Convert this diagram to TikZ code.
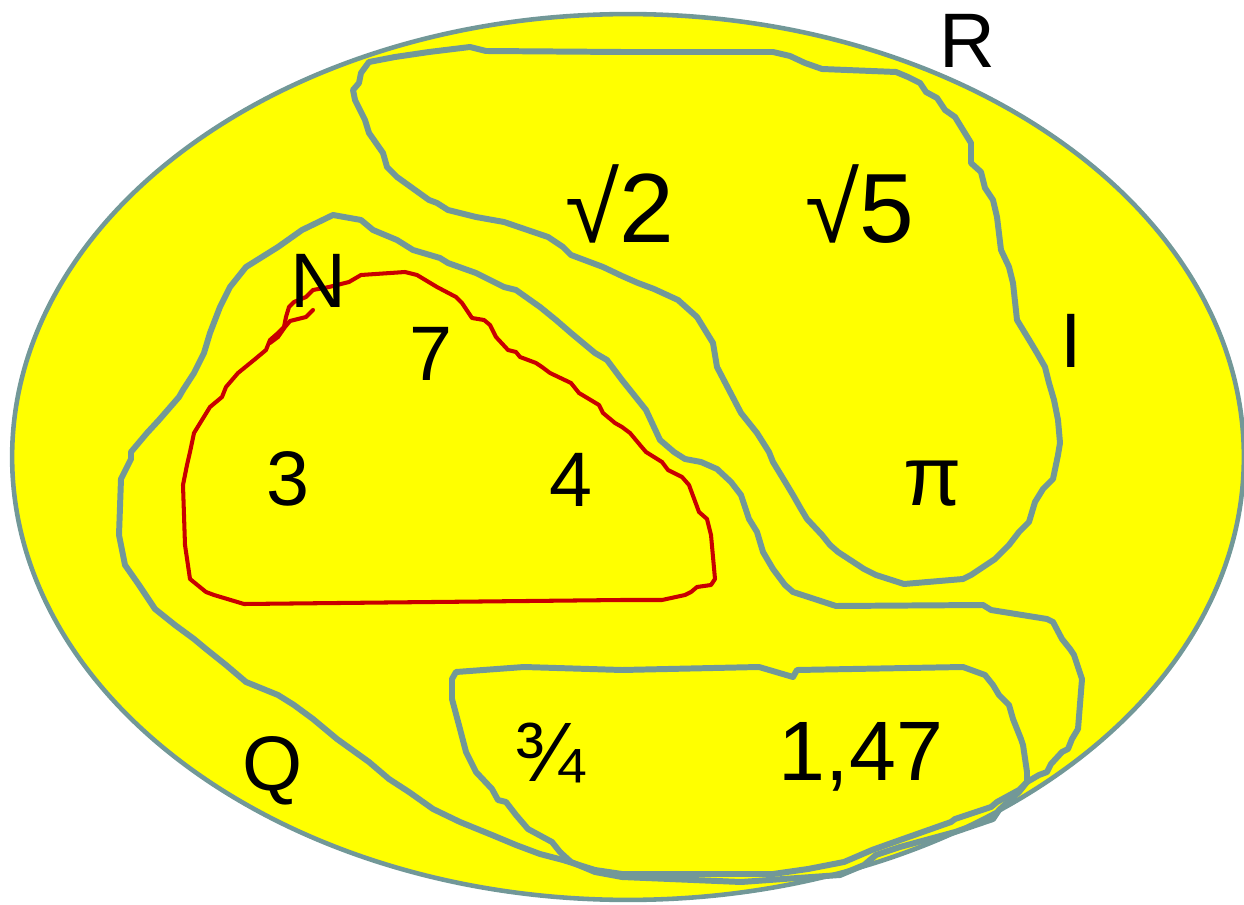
\documentclass[tikz,border=0pt]{standalone}
\usepackage{fontspec}
\setmainfont{Liberation Sans}
\definecolor{setgray}{RGB}{114,152,152}
\definecolor{nred}{RGB}{200,0,0}
\definecolor{bgyellow}{RGB}{255,255,0}
\newcommand\fsbig{\fontsize{44pt}{50pt}\selectfont}
\newcommand\fsroot{\fontsize{56pt}{62pt}\selectfont}
\newcommand\fsnum{\fontsize{48pt}{54pt}\selectfont}
\begin{document}
\begin{tikzpicture}[x=0.02cm,y=-0.02cm,
  setline/.style={draw=setgray, line width=3.4pt, line join=round, line cap=round},
  nline/.style={draw=nred, line width=2.3pt, line join=round, line cap=round},
  lbl/.style={anchor=base, inner sep=0pt, text=black, font=\fsbig}]
\useasboundingbox (0,0) rectangle (1244,905);
% universe R
\draw[fill=bgyellow, draw=setgray, line width=2.6pt] (628,457) ellipse [x radius=12.32cm, y radius=8.86cm];
% irrationals I
\draw[setline] (369,62) -- (395,57) -- (429,52) -- (470,47) -- (486,51) -- (622,52) -- (773,52) -- (790,56) -- (805,63) -- (822,69) -- (896,72) -- (908,77) -- (920,83) -- (926,92) -- (937,98) -- (945,110) -- (955,117) -- (963,130) -- (971,143) -- (971,163) -- (981,172) -- (985,188) -- (993,200) -- (997,217) -- (1001,250) -- (1009,267) -- (1013,283) -- (1017,320) -- (1031,343) -- (1037,353) -- (1045,367) -- (1049,383) -- (1054,400) -- (1058,420) -- (1060,443) -- (1058,455) -- (1053,479) -- (1043,489) -- (1035,502) -- (1029,522) -- (1019,532) -- (1009,545) -- (995,559) -- (971,575) -- (963,579) -- (904,584) -- (876,575) -- (864,569) -- (838,552) -- (830,545) -- (822,535) -- (807,519) -- (801,509) -- (793,495) -- (787,485) -- (773,462) -- (769,452) -- (757,433) -- (741,413) -- (729,390) -- (717,367) -- (713,343) -- (697,317) -- (678,300) -- (654,289) -- (638,283) -- (622,276) -- (603,267) -- (571,255) -- (563,247) -- (548,237) -- (504,222) -- (476,217) -- (448,210) -- (437,203) -- (429,200) -- (397,177) -- (387,167) -- (383,153) -- (369,133) -- (365,120) -- (355,100) -- (353,90) -- (359,83) -- (361,73) -- cycle;
% rationals Q
\draw[setline] (333,215) -- (302,230) -- (278,247) -- (246,267) -- (230,287) -- (220,307) -- (210,333) -- (204,353) -- (194,373) -- (183,390) -- (179,397) -- (159,420) -- (147,433) -- (131,452) -- (131,459) -- (121,479) -- (119,535) -- (125,565) -- (139,585) -- (155,609) -- (175,625) -- (194,639) -- (206,649) -- (226,665) -- (246,682) -- (278,695) -- (294,705) -- (313,719) -- (337,739) -- (369,762) -- (389,779) -- (409,792) -- (433,809) -- (460,822) -- (492,835) -- (516,845) -- (540,854) -- (563,860) -- (595,870) -- (622,874) -- (773,874) -- (808,869) -- (844,862) -- (872,850) -- (900,840) -- (951,822) -- (955,819) -- (991,807) -- (997,802) -- (1019,790) -- (1027,782) -- (1039,775) -- (1047,772) -- (1051,764) -- (1062,752) -- (1068,749) -- (1072,739) -- (1078,729) -- (1082,679) -- (1074,655) -- (1070,649) -- (1062,639) -- (1053,622) -- (1047,619) -- (991,610) -- (983,605) -- (836,606) -- (793,592) -- (785,585) -- (773,569) -- (763,552) -- (757,532) -- (749,519) -- (741,495) -- (731,482) -- (717,469) -- (701,462) -- (685,459) -- (674,452) -- (660,440) -- (646,410) -- (622,380) -- (607,360) -- (595,353) -- (571,333) -- (556,320) -- (540,307) -- (516,290) -- (504,287) -- (476,273) -- (448,263) -- (440,258) -- (413,250) -- (397,240) -- (373,230) -- (361,220) -- cycle;
% decimals
\draw[setline] (456,672) -- (452,679) -- (452,699) -- (460,729) -- (466,752) -- (476,772) -- (492,789) -- (498,800) -- (506,802) -- (516,815) -- (528,829) -- (552,842) -- (560,852) -- (571,862) -- (595,872) -- (622,877) -- (741,882) -- (840,875) -- (864,865) -- (876,855) -- (900,847) -- (955,832) -- (993,819) -- (999,810) -- (1019,792) -- (1027,782) -- (1027,772) -- (1023,745) -- (1021,739) -- (1013,719) -- (1009,705) -- (999,695) -- (993,685) -- (985,675) -- (963,667) -- (797,670) -- (793,677) -- (759,667) -- (622,670) -- (524,667) -- cycle;
% naturals N
\draw[nline] (313,290) -- (329,287) -- (349,282) -- (361,275) -- (405,272) -- (417,275) -- (437,287) -- (456,297) -- (462,303) -- (472,318) -- (484,320) -- (490,325) -- (496,337) -- (508,350) -- (516,352) -- (520,357) -- (536,363) -- (542,367) -- (550,373) -- (571,383) -- (579,393) -- (599,405) -- (603,413) -- (615,423) -- (622,427) -- (630,433) -- (640,445) -- (646,452) -- (662,462) -- (668,470) -- (682,477) -- (689,485) -- (699,512) -- (707,519) -- (711,535) -- (715,579) -- (711,585) -- (697,587) -- (691,592) -- (685,595) -- (662,600) -- (622,600) -- (244,604) -- (214,595) -- (206,592) -- (190,579) -- (185,545) -- (183,485) -- (187,465) -- (190,452) -- (194,433) -- (202,420) -- (210,407) -- (222,397) -- (226,387) -- (238,373) -- (254,360) -- (266,350) -- (270,340) -- (278,333) -- (284,327) -- (286,317) -- (289,307) -- (294,302) -- (306,297) -- cycle;
\draw[nline] (313,310) -- (306,317) -- (298,319) -- (290,321) -- (285,327) -- (278,337) -- (270,343);
% labels
\node[lbl] (lR) at (967,68) {R};
\node[lbl, font=\fsroot] (lsq2) at (620,243) {√2};
\node[lbl, font=\fsroot] (lsq5) at (860,243) {√5};
\node[lbl] (lI) at (1071,368) {I};
\node[lbl, font=\fsnum] (lpi) at (933,505) {π};
\node[lbl] (lN) at (318,308) {N};
\node[lbl] (l7) at (431,380) {7};
\node[lbl] (l3) at (288,505) {3};
\node[lbl] (l4) at (571,506) {4};
\node[lbl] (lQ) at (273,790) {Q};
\node[lbl, font=\fsnum] (l34) at (550,781) {¾};
\node[lbl, font=\fsnum] (l147) at (861,780) {1,47};
\end{tikzpicture}
\end{document}
